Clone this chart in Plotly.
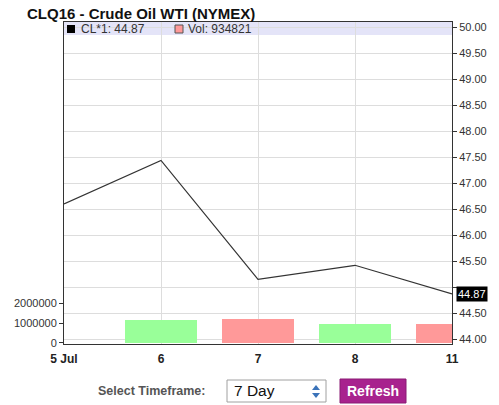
import plotly.graph_objects as go

days = ["5 Jul", "6", "7", "8", "11"]
price = [46.60, 47.44, 45.15, 45.42, 44.87]
volume = [None, 1150000, 1220000, 950000, 934821]
vol_colors = ["#99ff99", "#99ff99", "#ff9999", "#99ff99", "#ff9999"]
price_ticks = [44.0, 44.5, 45.0, 45.5, 46.0, 46.5, 47.0, 47.5, 48.0, 48.5, 49.0, 49.5, 50.0]
vol_ticks = [0, 1000000, 2000000]

W, H = 499, 405
L, R, T, B = 64, 452, 22, 344

def px(x):
    return (x - L) / (R - L)

def py(y):
    return (B - y) / (B - T)

fig = go.Figure()
fig.add_trace(go.Bar(x=days, y=volume, marker=dict(color=vol_colors, line=dict(width=0)),
                     width=0.74, yaxis="y", hoverinfo="skip"))
fig.add_trace(go.Scatter(x=days, y=price, mode="lines", line=dict(color="#333333", width=1.2),
                         yaxis="y2", hoverinfo="skip"))

shapes = [
    dict(type="rect", xref="paper", yref="paper", x0=0, x1=1, y0=py(35), y1=1,
         fillcolor="#e4e4f8", line=dict(width=0), layer="below"),
    dict(type="rect", xref="paper", yref="paper", x0=px(67), x1=px(75), y0=py(33), y1=py(25),
         fillcolor="#000000", line=dict(width=0)),
    dict(type="rect", xref="paper", yref="paper", x0=px(175), x1=px(183), y0=py(33), y1=py(25),
         fillcolor="#ff9999", line=dict(color="#555555", width=1)),
    dict(type="rect", xref="paper", yref="paper", x0=px(227), x1=px(326), y0=py(402), y1=py(380),
         fillcolor="#ffffff", line=dict(color="#a0a0a0", width=1)),
    dict(type="path", xref="paper", yref="paper",
         path=f"M {px(312)} {py(390)} L {px(320)} {py(390)} L {px(316)} {py(385)} Z",
         fillcolor="#3b73b9", line=dict(width=0)),
    dict(type="path", xref="paper", yref="paper",
         path=f"M {px(312)} {py(393)} L {px(320)} {py(393)} L {px(316)} {py(398)} Z",
         fillcolor="#3b73b9", line=dict(width=0)),
    dict(type="rect", xref="paper", yref="paper", x0=px(340), x1=px(406), y0=py(403), y1=py(379),
         fillcolor="#a8228e", line=dict(color="#8a1a75", width=1)),
]

annotations = [
    dict(text="<b>CLQ16 - Crude Oil WTI (NYMEX)</b>", xref="paper", yref="paper",
         x=px(25), y=py(14), xanchor="left", yanchor="middle", showarrow=False,
         font=dict(family="Arial", size=15, color="#111111")),
    dict(text="CL*1: 44.87", xref="paper", yref="paper", x=px(79), y=py(29),
         xanchor="left", yanchor="middle", showarrow=False,
         font=dict(family="Arial", size=12, color="#333333")),
    dict(text="Vol: 934821", xref="paper", yref="paper", x=px(186), y=py(29),
         xanchor="left", yanchor="middle", showarrow=False,
         font=dict(family="Arial", size=12, color="#333333")),
    dict(text="44.87", xref="paper", yref="y2", x=1, y=price[-1], xanchor="left", yanchor="middle",
         xshift=4, showarrow=False, bgcolor="#000000", borderpad=1,
         font=dict(family="Arial", size=11, color="#ffffff")),
    dict(text="<b>Select Timeframe:</b>", xref="paper", yref="paper", x=px(96), y=py(391),
         xanchor="left", yanchor="middle", showarrow=False,
         font=dict(family="Arial", size=12.5, color="#555555")),
    dict(text="7 Day", xref="paper", yref="paper", x=px(232), y=py(391),
         xanchor="left", yanchor="middle", showarrow=False,
         font=dict(family="Arial", size=15.5, color="#111111")),
    dict(text="<b>Refresh</b>", xref="paper", yref="paper", x=px(373), y=py(391),
         xanchor="center", yanchor="middle", showarrow=False,
         font=dict(family="Arial", size=14, color="#ffffff")),
]

fig.update_layout(
    width=W, height=H,
    margin=dict(l=L, r=W - R, t=T, b=H - B, autoexpand=False),
    paper_bgcolor="#ffffff", plot_bgcolor="#ffffff",
    showlegend=False, bargap=0,
    shapes=shapes, annotations=annotations,
    font=dict(family="Arial", size=11, color="#333333"),
    xaxis=dict(type="category", range=[0, 4], showgrid=True, gridcolor="#dddddd", gridwidth=1,
               showline=True, linecolor="#333333", linewidth=1, mirror=True,
               ticks="", ticklabelstandoff=4, tickfont=dict(family="Arial", size=12, color="#222222"),
               tickvals=days, ticktext=[f"<b>{d}</b>" for d in days], zeroline=False,
               automargin=False),
    yaxis=dict(range=[-66000, 16280000], tickvals=vol_ticks, ticktext=[str(v) for v in vol_ticks],
               showgrid=False, zeroline=False, showline=True, linecolor="#333333", linewidth=1,
               ticks="outside", ticklen=4, tickcolor="#333333", automargin=False,
               tickfont=dict(family="Arial", size=11, color="#333333")),
    yaxis2=dict(range=[43.904, 50.106], overlaying="y", side="right", tickvals=price_ticks,
                ticktext=["" if v == 45.0 else f"{v:.2f}" for v in price_ticks],
                showgrid=True, gridcolor="#dddddd", automargin=False,
                zeroline=False, showline=True, linecolor="#333333", linewidth=1,
                ticks="outside", ticklen=4, tickcolor="#333333",
                tickfont=dict(family="Arial", size=11, color="#333333")),
)

fig.write_html("out.html", config={"displayModeBar": False},
               post_script="document.body.style.margin='0';document.body.style.overflow='hidden';")
